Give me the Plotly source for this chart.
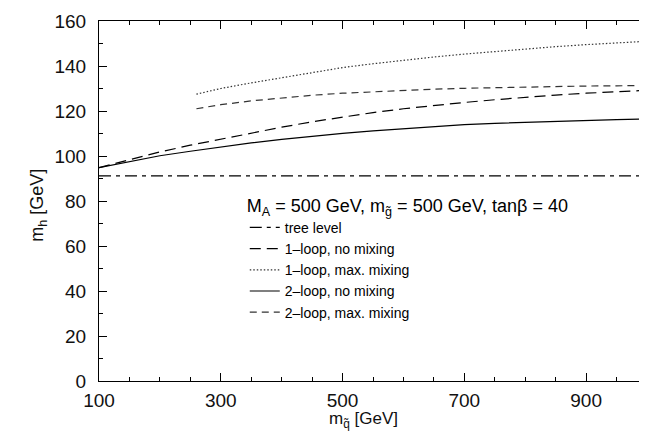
import plotly.graph_objects as go

# squark mass grid [GeV]
mq_full = [100, 150, 200, 250, 300, 350, 400, 450, 500, 550, 600, 650, 700, 750, 800, 850, 900, 950, 1000]
mq_maxmix = [260, 300, 350, 400, 450, 500, 550, 600, 650, 700, 750, 800, 850, 900, 950, 1000]

tree_level = [91.2] * len(mq_full)
one_loop_nomix = [94.8, 98.4, 101.8, 104.8, 107.5, 110.2, 112.8, 115.2, 117.4, 119.3, 121.0, 122.5, 123.8,
                  125.0, 126.1, 127.1, 127.9, 128.6, 129.2]
two_loop_nomix = [94.8, 97.6, 100.1, 102.1, 104.0, 105.8, 107.4, 108.8, 110.1, 111.2, 112.2, 113.1, 113.9,
                  114.5, 115.0, 115.5, 115.9, 116.2, 116.5]
one_loop_maxmix = [127.5, 130.0, 132.5, 134.8, 137.2, 139.3, 141.0, 142.6, 144.0, 145.3, 146.5, 147.6,
                   148.6, 149.5, 150.3, 151.0]
two_loop_maxmix = [121.0, 122.8, 124.5, 125.9, 127.0, 127.9, 128.6, 129.2, 129.7, 130.1, 130.4, 130.7,
                   130.9, 131.1, 131.2, 131.3]

x_ticks = [100, 300, 500, 700, 900]
y_ticks = [0, 20, 40, 60, 80, 100, 120, 140, 160]

FONT = "Liberation Sans, Arial, Helvetica, sans-serif"

fig = go.Figure()
fig.add_trace(go.Scatter(x=mq_full, y=tree_level, mode="lines", name="tree level",
                         line=dict(color="black", width=1.2, dash="12px,5px,4px,5px")))
fig.add_trace(go.Scatter(x=mq_full, y=one_loop_nomix, mode="lines", name="1\u2013loop, no mixing",
                         line=dict(color="black", width=1.2, dash="11px,6px")))
fig.add_trace(go.Scatter(x=mq_maxmix, y=one_loop_maxmix, mode="lines", name="1\u2013loop, max. mixing",
                         line=dict(color="#333333", width=1.2, dash="1.5px,2px")))
fig.add_trace(go.Scatter(x=mq_full, y=two_loop_nomix, mode="lines", name="2\u2013loop, no mixing",
                         line=dict(color="black", width=1.2)))
fig.add_trace(go.Scatter(x=mq_maxmix, y=two_loop_maxmix, mode="lines", name="2\u2013loop, max. mixing",
                         line=dict(color="#333333", width=1.2, dash="7px,5px")))

axis_common = dict(showgrid=False, zeroline=False, showline=True, linecolor="black", linewidth=1,
                   mirror="ticks", ticks="inside", tickcolor="black", ticklen=8, tickwidth=1,
                   automargin=False,
                   tickfont=dict(size=19, color="#111111", family=FONT))

fig.update_xaxes(range=[100, 1000], tickvals=x_ticks, ticktext=[str(v) for v in x_ticks],
                 ticklabelstandoff=2,
                 minor=dict(dtick=50, tick0=100, ticks="inside", ticklen=4, tickcolor="black"),
                 **axis_common)
fig.update_yaxes(range=[0, 160], tickvals=y_ticks, ticktext=[str(v) for v in y_ticks],
                 ticklabelstandoff=8,
                 minor=dict(dtick=10, tick0=0, ticks="inside", ticklen=4, tickcolor="black"),
                 **axis_common)

fig.add_annotation(text="m<sub>q\u0303</sub> [GeV]", xref="paper", yref="paper", x=0.482, y=-0.107,
                   xanchor="center", yanchor="middle", showarrow=False,
                   font=dict(size=17, family=FONT, color="#111111"))
fig.add_annotation(text="m<sub>h</sub> [GeV]", xref="paper", yref="paper", x=-0.11, y=0.489,
                   xanchor="center", yanchor="middle", showarrow=False, textangle=-90,
                   font=dict(size=18, family=FONT, color="#111111"))

fig.update_layout(
    width=647, height=432,
    margin=dict(l=91, r=8, t=13, b=59),
    paper_bgcolor="white", plot_bgcolor="white",
    font=dict(family=FONT, color="black"),
    showlegend=True,
    legend=dict(x=0.266, y=0.535, xanchor="left", yanchor="top",
                bgcolor="rgba(0,0,0,0)", borderwidth=0,
                font=dict(size=14, family=FONT, color="black"),
                tracegroupgap=0, itemwidth=30,
                title=dict(text="M<sub>A</sub> = 500 GeV, m<sub>g\u0303</sub> = 500 GeV, tan\u03b2 = 40",
                           font=dict(size=18, family=FONT, color="black"), side="top")),
)

fig.write_html("out.html")
